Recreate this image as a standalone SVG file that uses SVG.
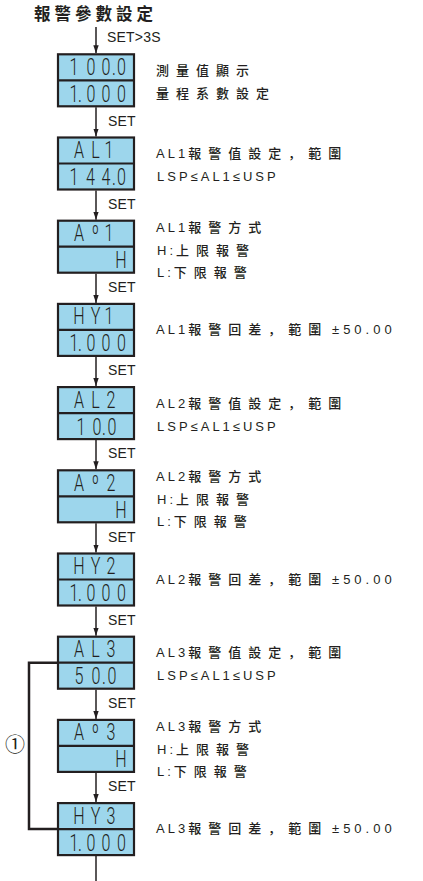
<svg xmlns="http://www.w3.org/2000/svg" width="423" height="881" viewBox="0 0 423 881">
<style>
.bx{fill:#9dd6ec;stroke:#231f20;stroke-width:2.2}
.dv{stroke:#231f20;stroke-width:2.2}
.sg{font-family:Roboto,"Liberation Sans",sans-serif;font-weight:300;font-size:23px;fill:#231f20;text-anchor:middle}
.tx{font-family:"Liberation Sans","Noto Sans CJK SC",sans-serif;font-size:13px;font-weight:500;fill:#231f20}
.la{letter-spacing:3px}
.nm{letter-spacing:4px}
.cj{letter-spacing:7px}
.set{font-family:"Liberation Sans",sans-serif;font-size:14px;fill:#231f20;letter-spacing:0.2px}
.ttl{font-family:"Noto Sans CJK SC",sans-serif;font-size:16.5px;font-weight:bold;fill:#231f20;letter-spacing:4px}
.ar{stroke:#231f20;stroke-width:1.5;fill:none;marker-end:url(#ah)}
.ln{stroke:#231f20;stroke-width:1.5;fill:none}
.lp{stroke:#231f20;stroke-width:2.5;fill:none}
</style>
<defs>
<marker id="ah" markerWidth="9" markerHeight="8" refX="8" refY="4" orient="auto" markerUnits="userSpaceOnUse">
<path d="M0,1.3 L8,4 L0,6.7 Z" fill="#231f20"/>
</marker>
</defs>
<rect width="423" height="881" fill="#ffffff"/>
<text class="ttl" x="34" y="20">報警參數設定</text>
<text class="set" x="107" y="42">SET&gt;3S</text>
<g id="connectors">
<path class="ar" d="M96,27 V53.3"/>
<path class="ar" d="M96,107.3 V136.5"/>
<path class="ar" d="M96,190.5 V219.7"/>
<path class="ar" d="M96,273.7 V302.9"/>
<path class="ar" d="M96,356.9 V386.1"/>
<path class="ar" d="M96,440.1 V469.3"/>
<path class="ar" d="M96,523.3 V552.5"/>
<path class="ar" d="M96,606.5 V635.7"/>
<path class="ar" d="M96,689.7 V718.9"/>
<path class="ar" d="M96,772.9 V802.1"/>
<path class="ln" d="M96,856.1 V881"/>
<path class="lp" d="M57,662.7 H29 V829.1 H57"/>
<text class="set" x="108" y="125.5">SET</text>
<text class="set" x="108" y="208.7">SET</text>
<text class="set" x="108" y="291.9">SET</text>
<text class="set" x="108" y="375.1">SET</text>
<text class="set" x="108" y="458.3">SET</text>
<text class="set" x="108" y="541.5">SET</text>
<text class="set" x="108" y="624.7">SET</text>
<text class="set" x="108" y="707.9">SET</text>
<text class="set" x="108" y="791.1">SET</text>
<text x="15" y="752" font-family="Noto Sans CJK SC, sans-serif" font-size="20" fill="#231f20" text-anchor="middle">①</text>
</g>
<g id="n0">
<rect class="bx" x="58" y="54.3" width="76" height="52"/>
<line class="dv" x1="58" x2="134" y1="80.3" y2="80.3"/>
<g transform="scale(0.7 1)">
<text class="sg" x="105.7 130 151.4 162.9 173.6" y="74.8">100.0</text>
<text class="sg" x="105.7 114.3 130 151.4 173.6" y="101.8">1.000</text>
</g>
<text class="tx" x="156" y="75.3"><tspan class="cj">測量值顯示</tspan></text>
<text class="tx" x="156" y="98.3"><tspan class="cj">量程系數設定</tspan></text>
</g>
<g id="n1">
<rect class="bx" x="58" y="137.5" width="76" height="52"/>
<line class="dv" x1="58" x2="134" y1="163.5" y2="163.5"/>
<g transform="scale(0.7 1)">
<text class="sg" x="112.9 136.4 155.7" y="158">AL1</text>
<text class="sg" x="105.7 129.3 151.4 162.9 173.6" y="185">144.0</text>
</g>
<text class="tx" x="156" y="158"><tspan class="la">AL1</tspan><tspan class="cj">報警值設定，範圍</tspan></text>
<text class="tx la" x="157" y="181">LSP≤AL1≤USP</text>
</g>
<g id="n2">
<rect class="bx" x="58" y="220.7" width="76" height="52"/>
<line class="dv" x1="58" x2="134" y1="246.7" y2="246.7"/>
<g transform="scale(0.7 1)">
<text class="sg" x="112.9 136.4 155.7" y="241.2">Aº1</text>
<text class="sg" x="172.9" y="268.2">H</text>
</g>
<text class="tx" x="156" y="231.7"><tspan class="la">AL1</tspan><tspan class="cj">報警方式</tspan></text>
<text class="tx" x="157" y="254.7"><tspan class="la">H:</tspan><tspan class="cj">上限報警</tspan></text>
<text class="tx" x="157" y="276.7"><tspan class="la">L:</tspan><tspan class="cj">下限報警</tspan></text>
</g>
<g id="n3">
<rect class="bx" x="58" y="303.9" width="76" height="52"/>
<line class="dv" x1="58" x2="134" y1="329.9" y2="329.9"/>
<g transform="scale(0.7 1)">
<text class="sg" x="112.9 136.4 155.7" y="324.4">HY1</text>
<text class="sg" x="105.7 114.3 130 151.4 173.6" y="351.4">1.000</text>
</g>
<text class="tx" x="156" y="333.9"><tspan class="la">AL1</tspan><tspan class="cj">報警回差，範圍</tspan><tspan class="nm" x="332">±50.00</tspan></text>
</g>
<g id="n4">
<rect class="bx" x="58" y="387.1" width="76" height="52"/>
<line class="dv" x1="58" x2="134" y1="413.1" y2="413.1"/>
<g transform="scale(0.7 1)">
<text class="sg" x="112.9 136.4 158.6" y="407.6">AL2</text>
<text class="sg" x="115.7 138.6 148.6 160" y="434.6">10.0</text>
</g>
<text class="tx" x="156" y="407.6"><tspan class="la">AL2</tspan><tspan class="cj">報警值設定，範圍</tspan></text>
<text class="tx la" x="157" y="430.6">LSP≤AL1≤USP</text>
</g>
<g id="n5">
<rect class="bx" x="58" y="470.3" width="76" height="52"/>
<line class="dv" x1="58" x2="134" y1="496.3" y2="496.3"/>
<g transform="scale(0.7 1)">
<text class="sg" x="112.9 136.4 158.6" y="490.8">Aº2</text>
<text class="sg" x="172.9" y="517.8">H</text>
</g>
<text class="tx" x="156" y="481.3"><tspan class="la">AL2</tspan><tspan class="cj">報警方式</tspan></text>
<text class="tx" x="157" y="504.3"><tspan class="la">H:</tspan><tspan class="cj">上限報警</tspan></text>
<text class="tx" x="157" y="526.3"><tspan class="la">L:</tspan><tspan class="cj">下限報警</tspan></text>
</g>
<g id="n6">
<rect class="bx" x="58" y="553.5" width="76" height="52"/>
<line class="dv" x1="58" x2="134" y1="579.5" y2="579.5"/>
<g transform="scale(0.7 1)">
<text class="sg" x="112.9 136.4 158.6" y="574">HY2</text>
<text class="sg" x="105.7 114.3 130 151.4 173.6" y="601">1.000</text>
</g>
<text class="tx" x="156" y="583.5"><tspan class="la">AL2</tspan><tspan class="cj">報警回差，範圍</tspan><tspan class="nm" x="332">±50.00</tspan></text>
</g>
<g id="n7">
<rect class="bx" x="58" y="636.7" width="76" height="52"/>
<line class="dv" x1="58" x2="134" y1="662.7" y2="662.7"/>
<g transform="scale(0.7 1)">
<text class="sg" x="112.9 136.4 158.6" y="657.2">AL3</text>
<text class="sg" x="112.9 137.1 148.6 160" y="684.2">50.0</text>
</g>
<text class="tx" x="156" y="657.2"><tspan class="la">AL3</tspan><tspan class="cj">報警值設定，範圍</tspan></text>
<text class="tx la" x="157" y="680.2">LSP≤AL1≤USP</text>
</g>
<g id="n8">
<rect class="bx" x="58" y="719.9" width="76" height="52"/>
<line class="dv" x1="58" x2="134" y1="745.9" y2="745.9"/>
<g transform="scale(0.7 1)">
<text class="sg" x="112.9 136.4 158.6" y="740.4">Aº3</text>
<text class="sg" x="172.9" y="767.4">H</text>
</g>
<text class="tx" x="156" y="730.9"><tspan class="la">AL3</tspan><tspan class="cj">報警方式</tspan></text>
<text class="tx" x="157" y="753.9"><tspan class="la">H:</tspan><tspan class="cj">上限報警</tspan></text>
<text class="tx" x="157" y="775.9"><tspan class="la">L:</tspan><tspan class="cj">下限報警</tspan></text>
</g>
<g id="n9">
<rect class="bx" x="58" y="803.1" width="76" height="52"/>
<line class="dv" x1="58" x2="134" y1="829.1" y2="829.1"/>
<g transform="scale(0.7 1)">
<text class="sg" x="112.9 136.4 158.6" y="823.6">HY3</text>
<text class="sg" x="105.7 114.3 130 151.4 173.6" y="850.6">1.000</text>
</g>
<text class="tx" x="156" y="833.1"><tspan class="la">AL3</tspan><tspan class="cj">報警回差，範圍</tspan><tspan class="nm" x="332">±50.00</tspan></text>
</g>
</svg>
